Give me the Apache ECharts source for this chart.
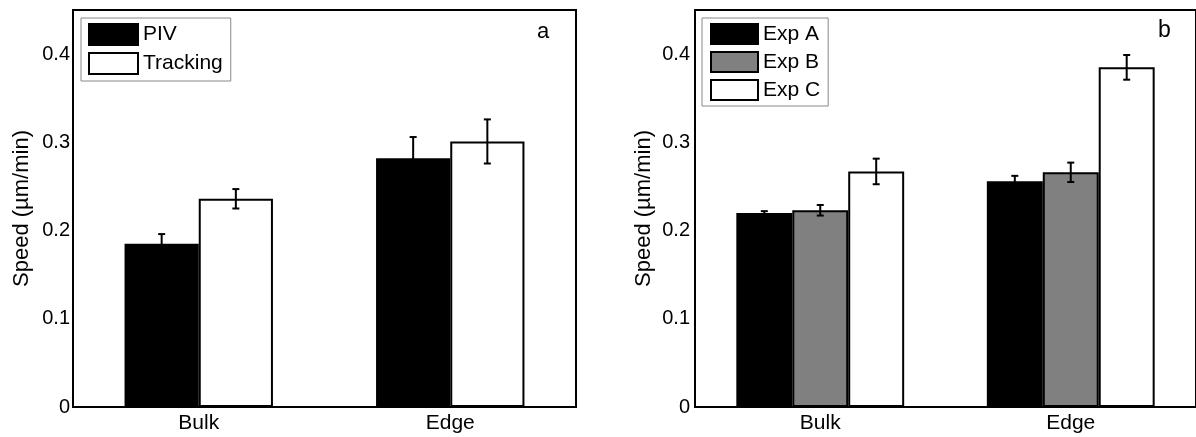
<!DOCTYPE html>
<html>
<head>
<meta charset="utf-8">
<script src="https://cdn.jsdelivr.net/npm/echarts@6/dist/echarts.min.js"></script>
<style>
html,body{margin:0;padding:0;background:#fff;}
#chart{width:1196px;height:437px;}
</style>
</head>
<body>
<div id="chart"></div>
<script>
const categories = ['Bulk', 'Edge'];
const yTicks = [0, 0.1, 0.2, 0.3, 0.4];
const yTickLabels = ['0', '0.1', '0.2', '0.3', '0.4'];
const panelLetters = ['a', 'b'];
const axisName = 'Speed (µm/min)';

const pivValues = [0.185, 0.282];
const pivErrors = [0.011, 0.024];
const trackingValues = [0.236, 0.301];
const trackingErrors = [0.011, 0.025];

const expAValues = [0.220, 0.256];
const expAErrors = [0.002, 0.006];
const expBValues = [0.223, 0.266];
const expBErrors = [0.006, 0.011];
const expCValues = [0.267, 0.385];
const expCErrors = [0.0145, 0.014];

const FONT = "'Liberation Sans', Arial, Helvetica, sans-serif";

function tickFormatter(v) {
  for (let i = 0; i < yTicks.length; i++) {
    if (Math.abs(v - yTicks[i]) < 1e-6) return yTickLabels[i];
  }
  return '';
}

function errData(values, errors) {
  return values.map((v, i) => [i, v, errors[i]]);
}

function errRender(offsetIndex, nBars, gapFrac) {
  return function (params, api) {
    const ci = api.value(0), v = api.value(1), e = api.value(2);
    const top = api.coord([ci, v + e]);
    const bot = api.coord([ci, v - e]);
    const catW = api.size([1, 0])[0];
    const bw = catW * (1 - gapFrac) / nBars;
    const x = top[0] + (offsetIndex - (nBars - 1) / 2) * bw;
    const cap = 3.5;
    const st = { stroke: '#000', lineWidth: 2 };
    return {
      type: 'group',
      children: [
        { type: 'line', shape: { x1: x, y1: top[1], x2: x, y2: bot[1] }, style: st },
        { type: 'line', shape: { x1: x - cap, y1: top[1], x2: x + cap, y2: top[1] }, style: st },
        { type: 'line', shape: { x1: x - cap, y1: bot[1], x2: x + cap, y2: bot[1] }, style: st }
      ]
    };
  };
}

function xAxisCfg(gi) {
  return {
    type: 'category', gridIndex: gi, data: categories,
    axisLine: { show: true, lineStyle: { color: '#000', width: 2 } },
    axisTick: { show: false },
    axisLabel: { color: '#000', fontSize: 21, fontFamily: FONT, margin: 6 },
    splitLine: { show: false }
  };
}
function yAxisCfg(gi, margin) {
  return {
    type: 'value', gridIndex: gi, min: 0, max: 0.45, interval: 0.1,
    name: axisName, nameLocation: 'middle', nameRotate: 90, nameGap: 40,
    nameTextStyle: { color: '#000', fontSize: 22, fontFamily: FONT },
    axisLine: { show: true, lineStyle: { color: '#000', width: 2 } },
    axisTick: { show: false },
    axisLabel: { color: '#000', fontSize: 20, fontFamily: FONT, margin: margin, formatter: tickFormatter },
    splitLine: { show: false }
  };
}

const barBorder = { borderColor: '#000', borderWidth: 2 };
const GAP_A = 0.41, GAP_B = 0.33;

const option = {
  backgroundColor: '#fff',
  animation: false,
  title: [
    { text: panelLetters[0], left: 532, top: 16, textStyle: { color: '#000', fontSize: 22, fontWeight: 'normal', fontFamily: FONT } },
    { text: panelLetters[1], left: 1153, top: 14, textStyle: { color: '#000', fontSize: 23, fontWeight: 'normal', fontFamily: FONT } }
  ],
  grid: [
    { left: 73, top: 10, width: 503, height: 397, show: true, borderColor: '#000', borderWidth: 2, backgroundColor: '#fff' },
    { left: 695, top: 10, width: 503, height: 397, show: true, borderColor: '#000', borderWidth: 2, backgroundColor: '#fff' }
  ],
  xAxis: [xAxisCfg(0), xAxisCfg(1)],
  yAxis: [yAxisCfg(0, 3), yAxisCfg(1, 5)],
  legend: [
    {
      data: ['PIV', 'Tracking'], orient: 'vertical', left: 81, top: 18,
      padding: [5, 8, 6, 7], itemWidth: 49, itemHeight: 21, itemGap: 6,
      icon: 'rect', backgroundColor: '#fff', borderColor: '#888', borderWidth: 1,
      itemStyle: { borderColor: '#000', borderWidth: 2 },
      textStyle: { color: '#000', fontSize: 21, fontFamily: FONT }
    },
    {
      data: ['Exp A', 'Exp B', 'Exp C'], orient: 'vertical', left: 702, top: 18,
      padding: [5, 8, 5, 8], itemWidth: 47, itemHeight: 20, itemGap: 6,
      icon: 'rect', backgroundColor: '#fff', borderColor: '#888', borderWidth: 1,
      itemStyle: { borderColor: '#000', borderWidth: 2 },
      textStyle: { color: '#000', fontSize: 21, fontFamily: FONT }
    }
  ],
  series: [
    { name: 'PIV', type: 'bar', xAxisIndex: 0, yAxisIndex: 0, data: pivValues, barGap: '0%', barCategoryGap: (GAP_A * 100) + '%', itemStyle: Object.assign({ color: '#000' }, barBorder) },
    { name: 'Tracking', type: 'bar', xAxisIndex: 0, yAxisIndex: 0, data: trackingValues, barGap: '0%', barCategoryGap: (GAP_A * 100) + '%', itemStyle: Object.assign({ color: '#fff' }, barBorder) },
    { type: 'custom', xAxisIndex: 0, yAxisIndex: 0, data: errData(pivValues, pivErrors), renderItem: errRender(0, 2, GAP_A), z: 10, silent: true },
    { type: 'custom', xAxisIndex: 0, yAxisIndex: 0, data: errData(trackingValues, trackingErrors), renderItem: errRender(1, 2, GAP_A), z: 10, silent: true },

    { name: 'Exp A', type: 'bar', xAxisIndex: 1, yAxisIndex: 1, data: expAValues, barGap: '0%', barCategoryGap: (GAP_B * 100) + '%', itemStyle: Object.assign({ color: '#000' }, barBorder) },
    { name: 'Exp B', type: 'bar', xAxisIndex: 1, yAxisIndex: 1, data: expBValues, barGap: '0%', barCategoryGap: (GAP_B * 100) + '%', itemStyle: Object.assign({ color: '#808080' }, barBorder) },
    { name: 'Exp C', type: 'bar', xAxisIndex: 1, yAxisIndex: 1, data: expCValues, barGap: '0%', barCategoryGap: (GAP_B * 100) + '%', itemStyle: Object.assign({ color: '#fff' }, barBorder) },
    { type: 'custom', xAxisIndex: 1, yAxisIndex: 1, data: errData(expAValues, expAErrors), renderItem: errRender(0, 3, GAP_B), z: 10, silent: true },
    { type: 'custom', xAxisIndex: 1, yAxisIndex: 1, data: errData(expBValues, expBErrors), renderItem: errRender(1, 3, GAP_B), z: 10, silent: true },
    { type: 'custom', xAxisIndex: 1, yAxisIndex: 1, data: errData(expCValues, expCErrors), renderItem: errRender(2, 3, GAP_B), z: 10, silent: true }
  ]
};

const chart = echarts.init(document.getElementById('chart'), null, { renderer: 'canvas' });
chart.setOption(option);
</script>
</body>
</html>
